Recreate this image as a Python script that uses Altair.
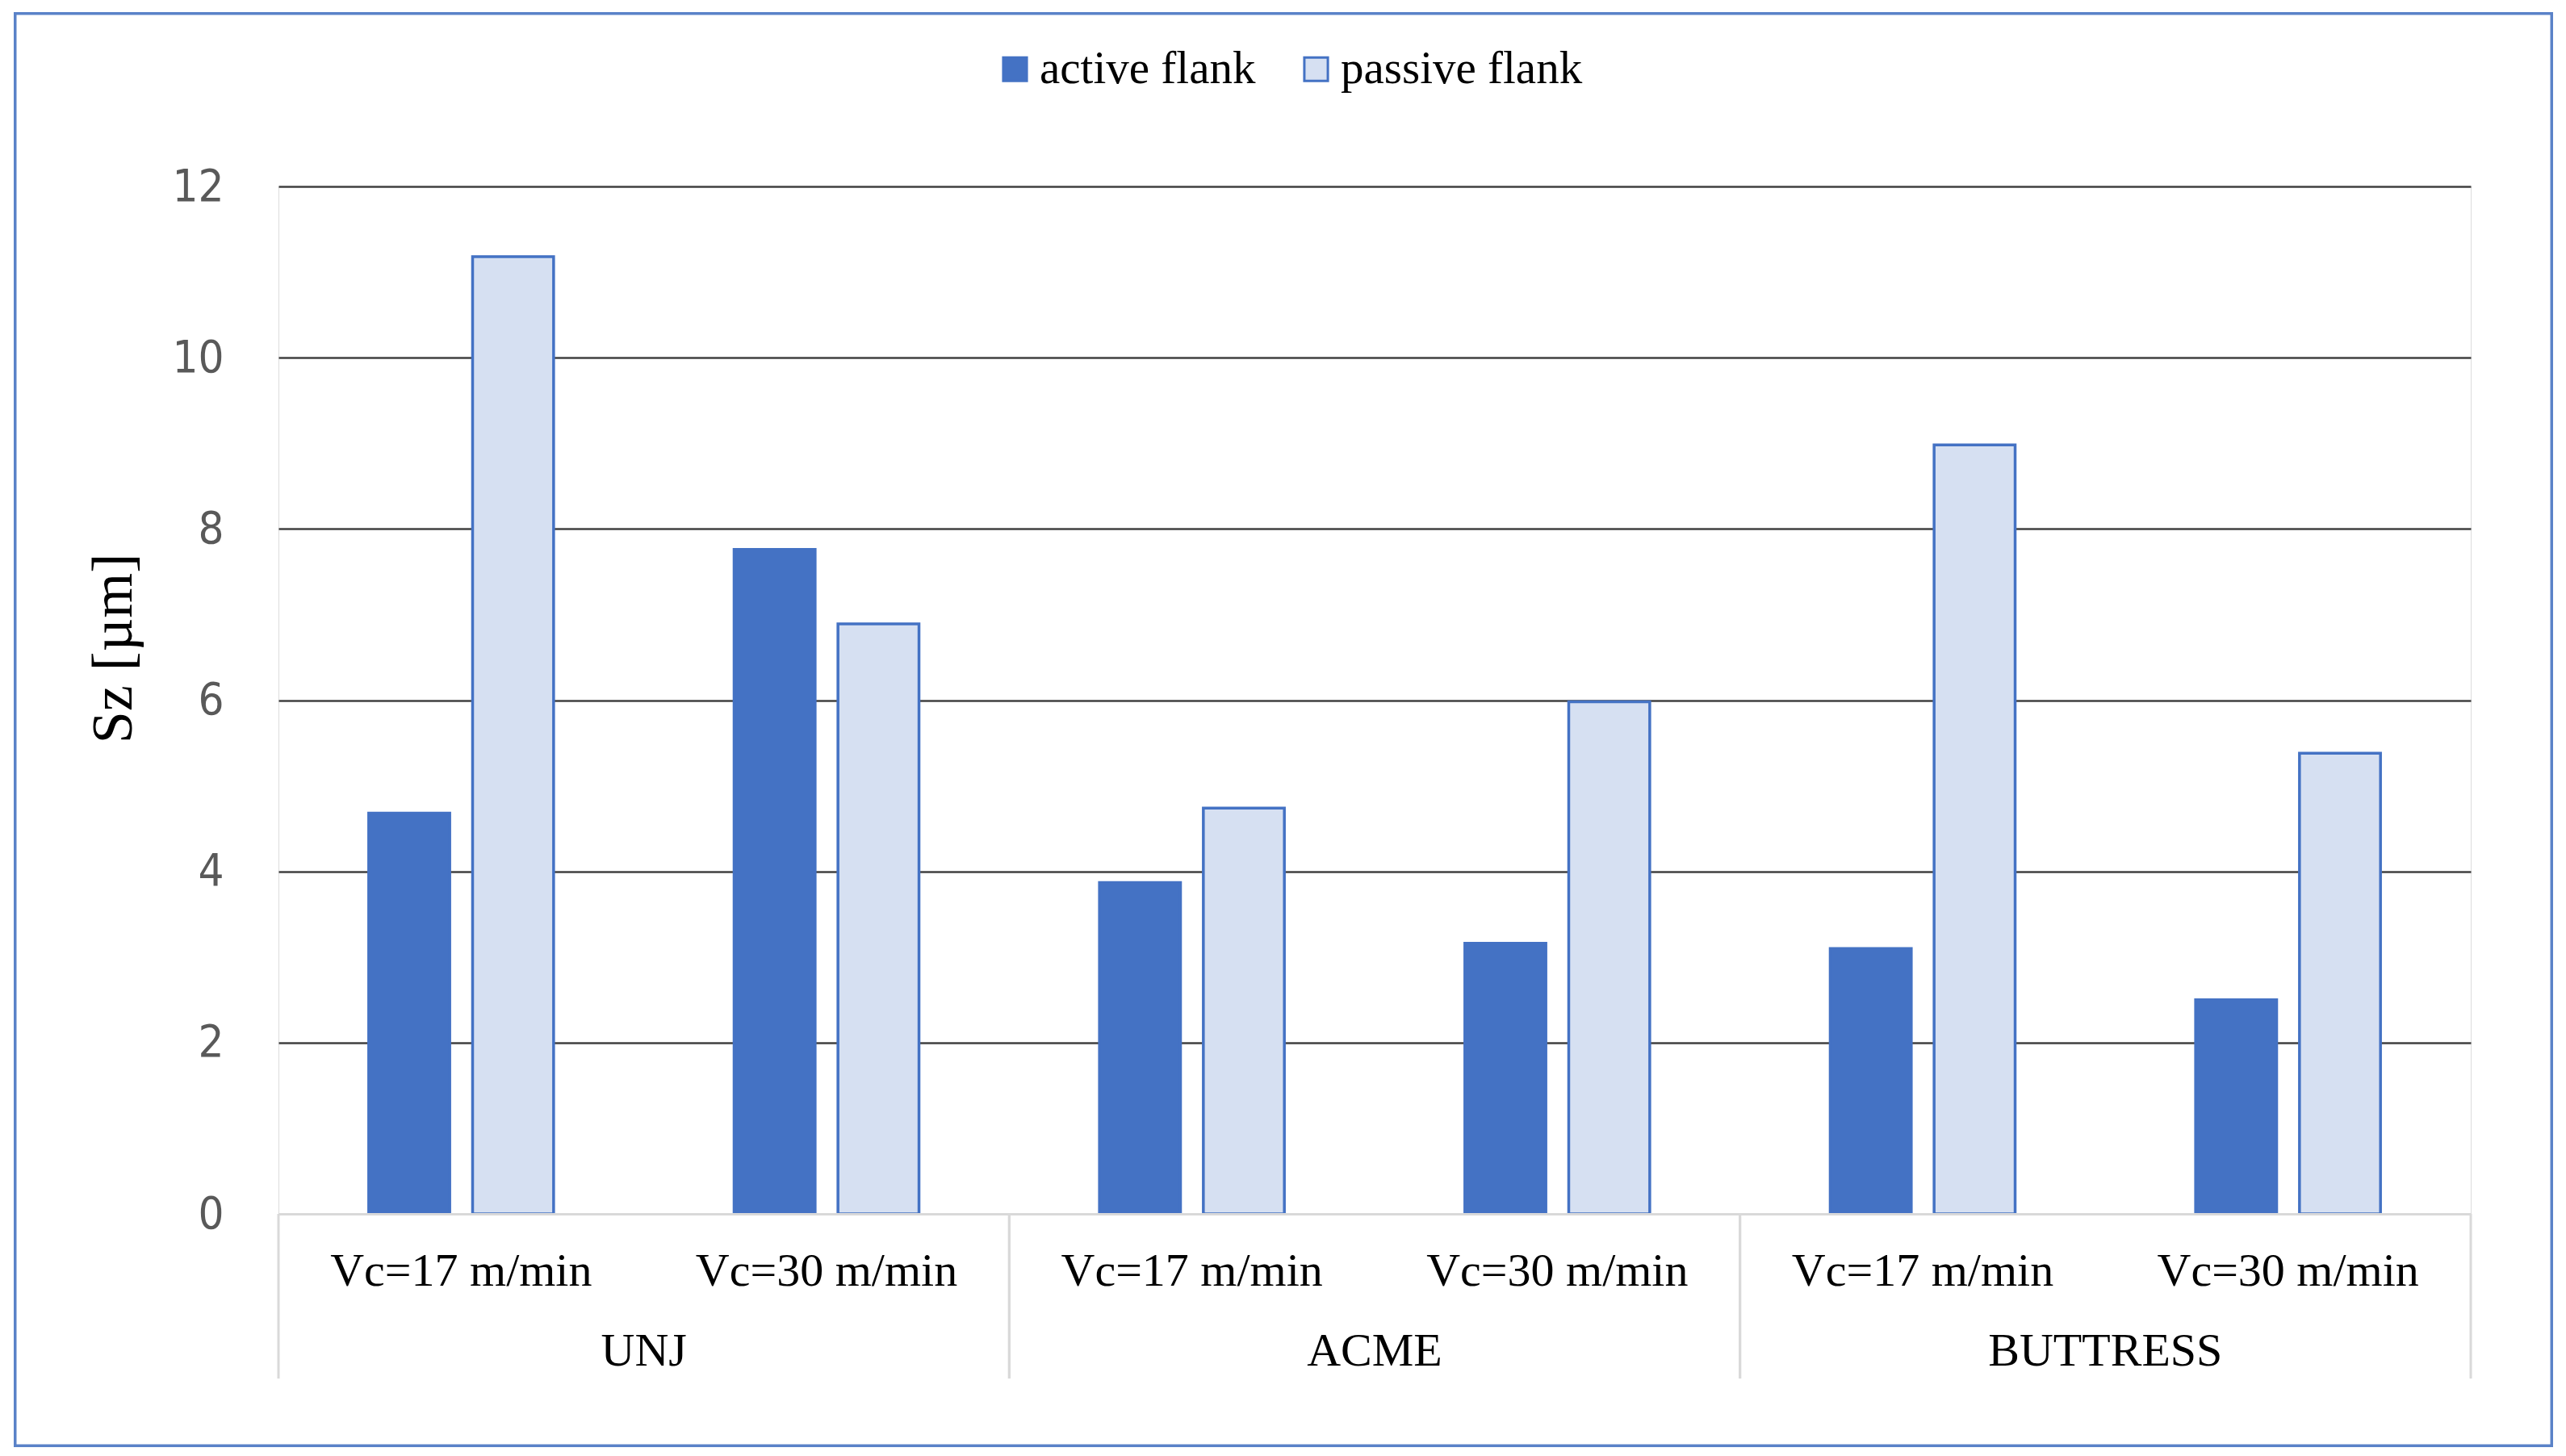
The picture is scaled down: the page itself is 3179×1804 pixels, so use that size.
import altair as alt
import pandas as pd

groups = ["UNJ", "ACME", "BUTTRESS"]
speeds = ["Vc=17 m/min", "Vc=30 m/min"]
flanks = ["active flank", "passive flank"]
active = [4.68, 7.76, 3.87, 3.16, 3.10, 2.50]
passive = [11.18, 6.89, 4.74, 5.98, 8.98, 5.38]

rows = []
cats = []
i = 0
for g in groups:
    for s in speeds:
        cat = g + "|" + s
        cats.append(cat)
        rows.append({"group": g, "speed": s, "cat": cat, "flank": flanks[0], "value": active[i]})
        rows.append({"group": g, "speed": s, "cat": cat, "flank": flanks[1], "value": passive[i]})
        i += 1
df = pd.DataFrame(rows)
gdf = pd.DataFrame({"group": groups})

W, H = 2716, 1273
BLUE = "#4472c4"
SERIF = "Liberation Serif"

bars = alt.Chart(df).mark_bar(strokeWidth=3.5).encode(
    x=alt.X("cat:N", sort=cats, title=None,
            scale=alt.Scale(paddingInner=0.494, paddingOuter=0.247),
            axis=alt.Axis(labelExpr="split(datum.label, '|')[1]", labelAngle=0,
                          labelFont=SERIF, labelFontSize=58, labelColor="#000000",
                          labelBaseline="alphabetic", labelPadding=88, labelLimit=800,
                          ticks=False, domainColor="#d9d9d9", domainWidth=3,
                          grid=False, zindex=1)),
    xOffset=alt.XOffset("flank:N", sort=flanks, scale=alt.Scale(paddingInner=0.22, paddingOuter=0)),
    y=alt.Y("value:Q", scale=alt.Scale(domain=[0, 12]),
            axis=alt.Axis(values=[0, 2, 4, 6, 8, 10, 12], title="Sz [µm]",
                          titleFont=SERIF, titleFontSize=72, titleFontWeight="normal",
                          titleColor="#000000", titleX=-205, titleY=572,
                          titleAlign="center", titleBaseline="middle", titleAngle=-90,
                          labelFont="DejaVu Sans Condensed, DejaVu Sans", labelFontSize=56,
                          labelColor="#595959", labelPadding=68, ticks=False, domain=False,
                          gridColor=alt.condition("datum.value == 0", alt.value("transparent"), alt.value("#404040")),
                          gridWidth=2.5)),
    fill=alt.Fill("flank:N", sort=flanks,
                  scale=alt.Scale(domain=flanks, range=[BLUE, "#d6e0f2"]),
                  legend=alt.Legend(title=None, orient="none", direction="horizontal",
                                    legendX=884, legendY=-174, symbolType="square",
                                    symbolSize=850, symbolStrokeColor=BLUE, symbolStrokeWidth=3,
                                    labelFont=SERIF, labelFontSize=57, labelColor="#000000",
                                    labelOffset=2, columnPadding=46, labelLimit=600)),
    stroke=alt.Stroke("flank:N", scale=alt.Scale(domain=flanks, range=[BLUE, BLUE]), legend=None),
)

group_text = alt.Chart(gdf).mark_text(font=SERIF, fontSize=58, color="#000000",
                                      baseline="alphabetic", align="center").encode(
    x=alt.X("group:N", sort=groups, scale=alt.Scale(paddingInner=0, paddingOuter=0), axis=None),
    y=alt.value(1461),
    text="group:N",
)

sep_start = alt.Chart(gdf).mark_rule(color="#d9d9d9", strokeWidth=3).encode(
    x=alt.X("group:N", sort=groups, bandPosition=0, scale=alt.Scale(paddingInner=0, paddingOuter=0), axis=None),
    y=alt.value(H),
    y2=alt.value(1477),
)
sep_end = alt.Chart(gdf).mark_rule(color="#d9d9d9", strokeWidth=3).encode(
    x=alt.X("group:N", sort=groups, bandPosition=1, scale=alt.Scale(paddingInner=0, paddingOuter=0), axis=None),
    y=alt.value(H),
    y2=alt.value(1477),
)

border = alt.Chart(pd.DataFrame({"a": [0]})).mark_rect(
    fill="transparent", stroke="#5a82c8", strokeWidth=3.5
).encode(
    x=alt.value(-326.25), x2=alt.value(2816.25),
    y=alt.value(-214.25), y2=alt.value(1560.25),
)

chart = alt.layer(border, bars, sep_start, sep_end, group_text).resolve_scale(
    x="independent"
).properties(
    width=W, height=H,
    padding={"left": 9, "top": 7, "right": 5, "bottom": 5},
).configure_view(strokeWidth=0).configure(background="white")

chart.save("out.html", embed_options={"renderer": "svg", "actions": False})
